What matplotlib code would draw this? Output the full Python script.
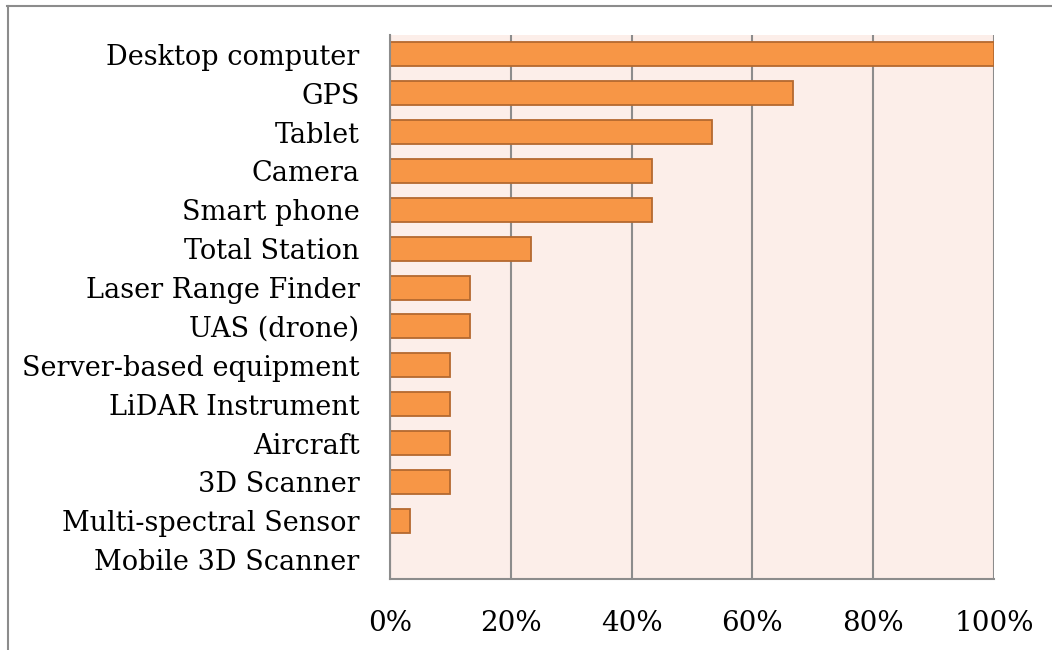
import matplotlib.pyplot as plt
from matplotlib.lines import Line2D
from matplotlib.ticker import PercentFormatter

# Share of respondents using each kind of equipment
equipment = ['Desktop computer', 'GPS', 'Tablet', 'Camera', 'Smart phone',
             'Total Station', 'Laser Range Finder', 'UAS (drone)',
             'Server-based equipment', 'LiDAR Instrument', 'Aircraft',
             '3D Scanner', 'Multi-spectral Sensor', 'Mobile 3D Scanner']
share = [1.0, 0.667, 0.533, 0.433, 0.433, 0.233, 0.133, 0.133,
         0.10, 0.10, 0.10, 0.10, 0.033, 0.0]
xticks = [0, 0.2, 0.4, 0.6, 0.8, 1.0]

plt.rcParams['font.family'] = 'DejaVu Serif'

fig = plt.figure(figsize=(10.52, 6.5), dpi=100)
ax = fig.add_axes([0.3707, 0.1092, 0.5742, 0.8370])

ypos = list(range(len(equipment)))[::-1]
ax.barh(ypos, share, height=0.62, color='#F79646', edgecolor='#B4692F',
        linewidth=1.3, zorder=3)

ax.set_facecolor('#FCEEE9')
ax.set_xlim(0, 1.0)
ax.set_ylim(-0.5, len(equipment) - 0.5)
ax.set_xticks(xticks)
ax.xaxis.set_major_formatter(PercentFormatter(1.0, decimals=0))
ax.set_yticks(ypos)
ax.set_yticklabels(equipment)
ax.tick_params(axis='y', length=0, pad=22, labelsize=19.5)
ax.tick_params(axis='x', length=0, pad=22, labelsize=20)

ax.grid(axis='x', color='#8C8C8C', linewidth=1.5, zorder=1)
for side in ['top', 'right']:
    ax.spines[side].set_visible(False)
for side in ['left', 'bottom']:
    ax.spines[side].set_color('#8C8C8C')
    ax.spines[side].set_linewidth(1.5)
    ax.spines[side].set_zorder(4)

# outer frame of the chart area (top and left edges)
fig.add_artist(Line2D([7 / 1052, 1.0], [1 - 5.5 / 650] * 2,
                      transform=fig.transFigure, color='#8C8C8C', lw=1.5))
fig.add_artist(Line2D([7.5 / 1052] * 2, [0.0, 1 - 5.5 / 650],
                      transform=fig.transFigure, color='#8C8C8C', lw=1.5))

fig.savefig('out.png', dpi=100)
